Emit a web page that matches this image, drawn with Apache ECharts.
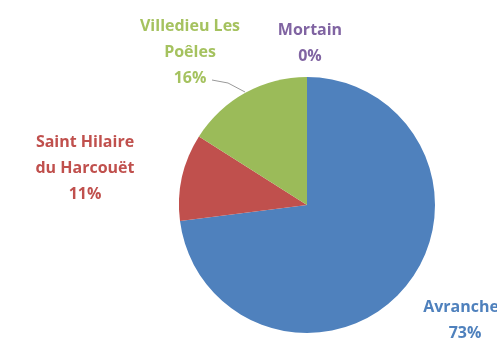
<!DOCTYPE html>
<html><head><meta charset="utf-8">
<script src="https://cdn.jsdelivr.net/npm/echarts@6/dist/echarts.min.js"></script>
<style>html,body{margin:0;padding:0;background:#fff}#c{width:497px;height:341px}</style>
</head><body><div id="c"></div>
<script>
const categories = ['Avranches', 'Saint Hilaire\ndu Harcouët', 'Villedieu Les\nPoêles', 'Mortain'];
const values = [73, 11, 16, 0];
const colors = ['#4F81BD', '#C0504D', '#9BBB59', '#8064A2'];
const labelColors = ['#4F81BD', '#C0504D', '#A5C25F', '#8064A2'];
const labelPos = [[465, 320], [85, 168], [190, 52], [310, 43]];

const chart = echarts.init(document.getElementById('c'));
chart.setOption({
  animation: false,
  series: [{
    type: 'pie',
    center: [307, 205],
    radius: 128,
    startAngle: 90,
    clockwise: true,
    avoidLabelOverlap: false,
    stillShowZeroSum: true,
    itemStyle: { borderWidth: 0 },
    label: {
      show: true,
      position: 'outside',
      formatter: p => p.name + '\n' + Math.round(p.percent) + '%',
      fontFamily: 'Open Sans',
      fontWeight: 'bold',
      fontSize: 16,
      lineHeight: 26,
      align: 'center'
    },
    labelLine: { show: false, lineStyle: { color: '#999', width: 1 } },
    labelLayout: function (p) {
      const pos = labelPos[p.dataIndex];
      const res = { x: pos[0], y: pos[1], align: 'center', verticalAlign: 'middle' };
      if (p.dataIndex === 2) {
        res.labelLinePoints = [[245, 92], [228, 83], [212, 80]];
      }
      return res;
    },
    data: categories.map((c, i) => ({
      name: c,
      value: values[i],
      itemStyle: { color: colors[i] },
      label: { color: labelColors[i] },
      labelLine: { show: i === 2, length: 10, length2: 30 }
    }))
  }]
});
</script></body></html>
